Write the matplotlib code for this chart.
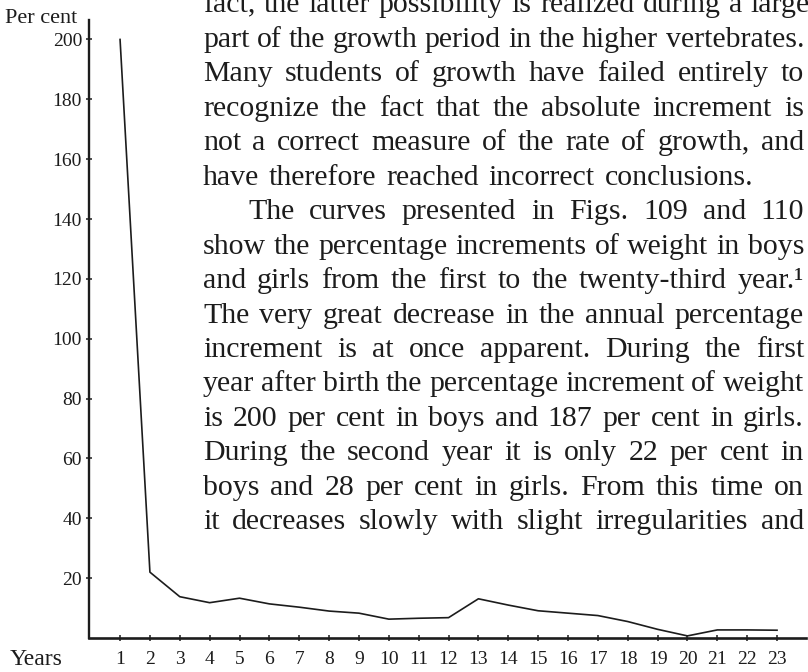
import matplotlib.pyplot as plt

# Incremento porcentual anual del peso (niños), del año 1 al 23
anios = list(range(1, 24))
incremento = [200, 22, 13.8, 11.8, 13.3, 11.4, 10.3, 9.0, 8.3, 6.3, 6.6, 6.8,
              13.1, 11.0, 9.1, 8.3, 7.5, 5.5, 2.9, 0.7, 2.7, 2.7, 2.6]
ticks_y = list(range(20, 201, 20))

# Texto de la página que rodea la figura
lineas = [
    "fact, the latter possibility is realized during a large",
    "part of the growth period in the higher vertebrates.",
    "Many students of growth have failed entirely to",
    "recognize the fact that the absolute increment is",
    "not a correct measure of the rate of growth, and",
    "have therefore reached incorrect conclusions.",
    "The curves presented in Figs. 109 and 110",
    "show the percentage increments of weight in boys",
    "and girls from the first to the twenty-third year.\u00b9",
    "The very great decrease in the annual percentage",
    "increment is at once apparent.  During the first",
    "year after birth the percentage increment of weight",
    "is 200 per cent in boys and 187 per cent in girls.",
    "During the second year it is only 22 per cent in",
    "boys and 28 per cent in girls.  From this time on",
    "it decreases slowly with slight irregularities and",
]

W, H = 808, 672
fuente = 'Liberation Serif'
tinta = '#1c1c1c'

fig = plt.figure(figsize=(W / 100, H / 100), dpi=100)
ax = fig.add_axes([89 / W, 1 - 638 / H, 717 / W, 618 / H])

ax.plot(anios, incremento, color=tinta, lw=1.2)
ax.set_xlim(-0.04, 23.97)
ax.set_ylim(0, 206.5)

ax.spines['top'].set_visible(False)
ax.spines['right'].set_visible(False)
ax.spines['left'].set_linewidth(1.7)
ax.spines['bottom'].set_linewidth(1.9)
ax.spines['left'].set_color(tinta)
ax.spines['bottom'].set_color(tinta)

ax.set_xticks(anios)
ax.set_xticklabels([str(a) for a in anios], fontsize=14, family=fuente, color=tinta)
ax.set_yticks(ticks_y)
ax.set_yticklabels([str(v) for v in ticks_y], fontsize=14, family=fuente, color=tinta)
ax.tick_params(axis='y', direction='inout', length=5, width=1.1, pad=2.5, colors=tinta)
ax.tick_params(axis='x', direction='inout', length=4, width=1.1, pad=7, colors=tinta)

fig.text(5 / W, 1 - 23 / H, 'Per cent', fontsize=16, family=fuente, color=tinta, va='baseline')
fig.text(10 / W, 1 - 665 / H, 'Years', fontsize=17, family=fuente, color=tinta, va='baseline')

# Texto justificado palabra por palabra
renderer = fig.canvas.get_renderer()
for i, linea in enumerate(lineas):
    y = 12.5 + 34.45 * i
    x0 = 248 if i == 6 else 203
    x1 = 753 if i == 5 else (810 if i == 0 else 804)
    palabras = linea.split()
    textos = [fig.text(0, 1 - y / H, p, fontsize=21.5, family=fuente,
                       color=tinta, va='baseline') for p in palabras]
    anchos = [t.get_window_extent(renderer).width for t in textos]
    hueco = (x1 - x0 - sum(anchos)) / (len(palabras) - 1)
    x = x0
    for t, a in zip(textos, anchos):
        t.set_x(x / W)
        x += a + hueco

fig.savefig('out.png', dpi=100)
